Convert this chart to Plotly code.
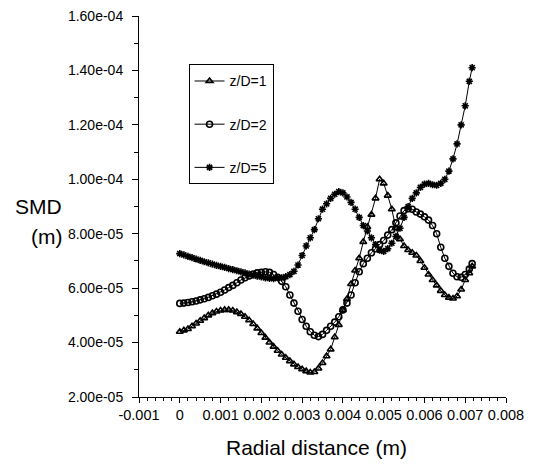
import plotly.graph_objects as go

radial = [0.0, 0.0001, 0.0002, 0.0003, 0.0004, 0.0005, 0.0006, 0.0007, 0.0008, 0.0009,
          0.0010, 0.0011, 0.0012, 0.0013, 0.0014, 0.0015, 0.0016, 0.0017, 0.0018, 0.0019,
          0.0020, 0.0021, 0.0022, 0.0023, 0.0024, 0.0025, 0.0026, 0.0027, 0.0028, 0.0029,
          0.0030, 0.0031, 0.0032, 0.0033, 0.0034, 0.0035, 0.0036, 0.0037, 0.0038, 0.0039,
          0.0040, 0.0041, 0.0042, 0.0043, 0.0044, 0.0045, 0.0046, 0.0047, 0.0048, 0.0049,
          0.0050, 0.0051, 0.0052, 0.0053, 0.0054, 0.0055, 0.0056, 0.0057, 0.0058, 0.0059,
          0.0060, 0.0061, 0.0062, 0.0063, 0.0064, 0.0065, 0.0066, 0.0067, 0.0068, 0.0069,
          0.0070, 0.0071, 0.00717]

# SMD values in units of 1e-5 m
smd_zd1 = [4.40, 4.45, 4.50, 4.60, 4.70, 4.80, 4.90, 5.00, 5.08, 5.14,
           5.18, 5.20, 5.20, 5.18, 5.12, 5.05, 4.95, 4.82, 4.68, 4.52,
           4.35, 4.18, 4.00, 3.85, 3.70, 3.56, 3.44, 3.32, 3.20, 3.10,
           3.02, 2.95, 2.90, 2.92, 3.05, 3.25, 3.50, 3.75, 4.20, 4.65,
           5.20, 5.60, 6.15, 6.65, 7.10, 7.70, 8.25, 8.70, 9.30, 10.00,
           9.85, 9.40, 8.90, 8.20, 7.80, 7.55, 7.40, 7.30, 7.20, 7.00,
           6.75, 6.50, 6.30, 6.10, 5.90, 5.75, 5.65, 5.62, 5.70, 5.95,
           6.30, 6.55, 6.80]
smd_zd2 = [5.44, 5.45, 5.47, 5.50, 5.53, 5.57, 5.61, 5.66, 5.72, 5.78,
           5.85, 5.93, 6.02, 6.10, 6.20, 6.30, 6.38, 6.45, 6.52, 6.56,
           6.58, 6.60, 6.58, 6.50, 6.40, 6.25, 6.05, 5.75, 5.45, 5.15,
           4.85, 4.60, 4.40, 4.27, 4.22, 4.30, 4.45, 4.60, 4.75, 4.95,
           5.20, 5.45, 5.75, 6.20, 6.60, 6.90, 7.10, 7.30, 7.45, 7.60,
           7.75, 7.95, 8.15, 8.40, 8.65, 8.85, 8.92, 8.90, 8.80, 8.72,
           8.62, 8.50, 8.30, 8.00, 7.50, 7.10, 6.80, 6.55, 6.42, 6.40,
           6.50, 6.70, 6.90]
smd_zd5 = [7.27, 7.22, 7.17, 7.12, 7.07, 7.02, 6.97, 6.93, 6.88, 6.84,
           6.80, 6.76, 6.72, 6.68, 6.64, 6.60, 6.56, 6.52, 6.48, 6.44,
           6.41, 6.38, 6.36, 6.35, 6.38, 6.38, 6.42, 6.50, 6.62, 6.85,
           7.20, 7.55, 7.85, 8.15, 8.55, 8.90, 9.10, 9.30, 9.45, 9.55,
           9.50, 9.35, 9.15, 8.90, 8.60, 8.30, 8.10, 7.85, 7.60, 7.40,
           7.35, 7.45, 7.65, 7.90, 8.20, 8.60, 9.00, 9.30, 9.50, 9.70,
           9.82, 9.85, 9.80, 9.78, 9.85, 10.00, 10.30, 10.75, 11.30, 12.00,
           12.70, 13.60, 14.10]

series_names = ["z/D=1", "z/D=2", "z/D=5"]
x_tick_vals = [-0.001, 0.0, 0.001, 0.002, 0.003, 0.004, 0.005, 0.006, 0.007, 0.008]
x_tick_text = ["-0.001", "0", "0.001", "0.002", "0.003", "0.004", "0.005", "0.006", "0.007", "0.008"]
y_tick_vals = [2e-5, 4e-5, 6e-5, 8e-5, 1e-4, 1.2e-4, 1.4e-4, 1.6e-4]
y_tick_text = ["2.00e-05", "4.00e-05", "6.00e-05", "8.00e-05", "1.00e-04", "1.20e-04", "1.40e-04", "1.60e-04"]

scale = 1e-5
font = "Liberation Sans, Arial, sans-serif"

fig = go.Figure()
symbols = ["triangle-up-open", "circle-open", "asterisk-open"]
for name, vals, sym in zip(series_names, [smd_zd1, smd_zd2, smd_zd5], symbols):
    fig.add_trace(go.Scatter(
        x=radial, y=[v * scale for v in vals], name=name, legendgroup=name,
        mode="lines+markers",
        line=dict(color="black", width=1),
        marker=dict(symbol=sym, size=6, color="black", line=dict(color="black", width=1.6)),
    ))

# page body has an 8px margin, so the figure is sized/offset to compensate
fig.update_layout(
    width=525, height=456,
    margin=dict(l=131, r=27, t=8, b=67, autoexpand=False),
    paper_bgcolor="white", plot_bgcolor="white",
    font=dict(family=font, size=14, color="black"),
    showlegend=True,
    legend=dict(
        x=0.135, y=0.873, xanchor="left", yanchor="top",
        bordercolor="black", borderwidth=1, bgcolor="white",
        font=dict(size=14, family=font), tracegroupgap=22,
        itemwidth=30,
    ),
    xaxis=dict(
        range=[-0.001, 0.008], tickvals=x_tick_vals, ticktext=x_tick_text,
        showgrid=False, zeroline=False, showline=True, linecolor="black", linewidth=1,
        ticks="outside", ticklen=5, tickcolor="black", ticklabeloverflow="allow",
        automargin=False,
        tickfont=dict(size=14.5, family=font),
        minor=dict(dtick=0.0002, tick0=0, ticks="outside", ticklen=3, tickcolor="black"),
    ),
    yaxis=dict(
        range=[2e-5, 1.6e-4], tickvals=y_tick_vals, ticktext=y_tick_text,
        showgrid=False, zeroline=False, showline=True, linecolor="black", linewidth=1,
        ticks="outside", ticklen=6, tickcolor="black", ticklabelstandoff=6,
        ticklabeloverflow="allow", automargin=False,
        tickfont=dict(size=14, family=font),
        minor=dict(dtick=1e-5, tick0=0, ticks="outside", ticklen=4, tickcolor="black"),
    ),
    annotations=[
        dict(text="SMD", xref="paper", yref="paper", x=-0.205, y=0.5,
             xanchor="right", yanchor="middle", showarrow=False,
             font=dict(size=21, family=font, color="black")),
        dict(text="(m)", xref="paper", yref="paper", x=-0.205, y=0.4215,
             xanchor="right", yanchor="middle", showarrow=False,
             font=dict(size=21, family=font, color="black")),
        dict(text="Radial distance (m)", xref="paper", yref="paper", x=0.485, y=-0.133,
             xanchor="center", yanchor="middle", showarrow=False,
             font=dict(size=21, family=font, color="black")),
    ],
)

fig.write_html("out.html")
